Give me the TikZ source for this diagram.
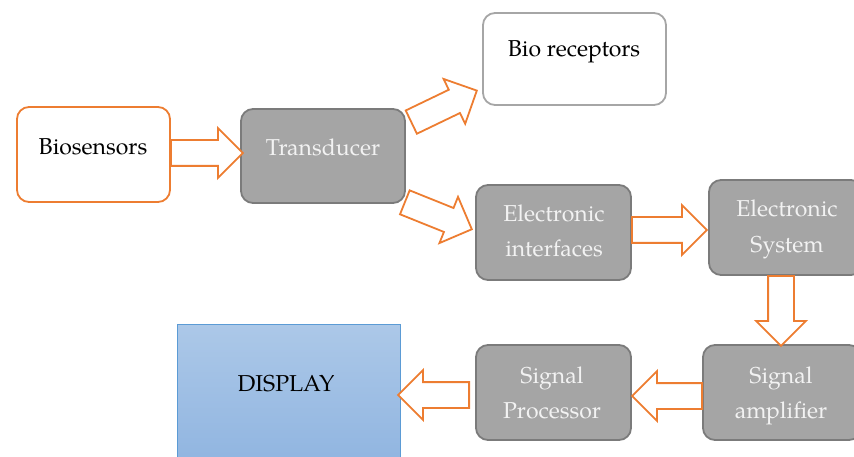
\documentclass[tikz,border=0pt]{standalone}
\usepackage{fontspec}
\setmainfont{TeX Gyre Pagella}
\usetikzlibrary{shapes.arrows}
\definecolor{orangeA}{HTML}{ED7D31}
\definecolor{grayfill}{HTML}{A5A5A5}
\definecolor{grayedge}{HTML}{7B7B7B}
\definecolor{lightedge}{HTML}{A6A6A6}
\definecolor{boxtext}{HTML}{F2F2F2}
\definecolor{dispTop}{HTML}{ACC8E8}
\definecolor{dispBot}{HTML}{8FB4E0}
\definecolor{dispEdge}{HTML}{5B9BD5}
\begin{document}
\begin{tikzpicture}[x=1pt,y=-1pt,
  box/.style={rectangle, rounded corners=12pt, line width=1.8pt, inner sep=0pt},
  whitebox/.style={box, fill=white},
  graybox/.style={box, fill=grayfill, draw=grayedge},
  blockarrow/.style={single arrow, draw=orangeA, fill=white, line width=1.8pt,
     inner xsep=0pt, inner ysep=12pt, minimum width=1pt,
     single arrow head extend=12pt, anchor=tail},
  lbl/.style={anchor=base, font=\fontsize{23}{28}\selectfont, inner sep=0pt},
  lblw/.style={lbl, text=boxtext}]
\useasboundingbox (0,0) rectangle (854,457);
\clip (0,0) rectangle (854,457);
% boxes
\node[whitebox, draw=orangeA, minimum width=153pt, minimum height=95pt] (bio) at (93.5,154.5) {};
\node[graybox, minimum width=164pt, minimum height=94pt] (trans) at (323,156) {};
\node[whitebox, draw=lightedge, minimum width=183pt, minimum height=92pt] (rec) at (574.5,59) {};
\node[graybox, minimum width=155pt, minimum height=95pt] (ei) at (553.5,232.5) {};
\node[graybox, minimum width=154pt, minimum height=95pt] (es) at (786,227.5) {};
\node[graybox, minimum width=158pt, minimum height=95pt] (sa) at (782,392.5) {};
\node[graybox, minimum width=155pt, minimum height=95pt] (sp) at (553.5,392.5) {};
\node[rectangle, inner sep=0pt, top color=dispTop, bottom color=dispBot, draw=dispEdge, line width=0.8pt,
      minimum width=223pt, minimum height=146pt] (disp) at (288.5,397) {};
% block arrows
\node[blockarrow, minimum height=72pt] (a1) at (170,153) {};
\node[blockarrow, minimum height=72.7pt, rotate=25.7] (a2) at (410.5,122.5) {};
\node[blockarrow, minimum height=72.2pt, rotate=-21.9] (a3) at (404,202) {};
\node[blockarrow, minimum height=75pt] (a4) at (631,230) {};
\node[blockarrow, minimum height=70pt, rotate=-90] (a5) at (781,275) {};
\node[blockarrow, minimum height=70pt, rotate=180] (a6) at (703,396) {};
\node[blockarrow, minimum height=71pt, rotate=180] (a7) at (470,395) {};
% labels
\node[lbl] (tbio) at (93,155) {Biosensors};
\node[lblw] (ttrans) at (323,156) {Transducer};
\node[lbl] (trec) at (574,57) {Bio receptors};
\node[lblw] (tei1) at (554,222) {Electronic};
\node[lblw] (tei2) at (554,257) {interfaces};
\node[lblw] (tes1) at (787,217) {Electronic};
\node[lblw] (tes2) at (787,252) {System};
\node[lblw] (tsa1) at (781,383) {Signal};
\node[lblw] (tsa2) at (781,418) {amplifier};
\node[lblw] (tsp1) at (552,383) {Signal};
\node[lblw] (tsp2) at (552,418) {Processor};
\node[lbl] (tdisp) at (286,391) {DISPLAY};
\end{tikzpicture}
\end{document}
